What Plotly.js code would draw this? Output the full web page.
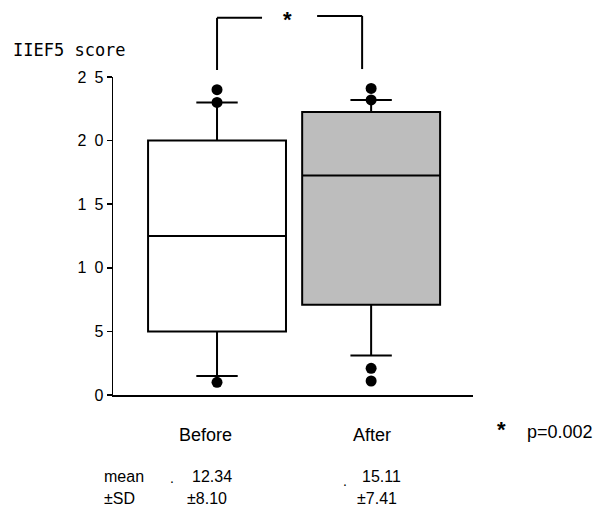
<!DOCTYPE html>
<html>
<head>
<meta charset="utf-8">
<script src="https://cdn.plot.ly/plotly-3.0.1.min.js"></script>
<style>
  html, body { margin: 0; padding: 0; background: #fff; }
  #chart { width: 600px; height: 507px; }
</style>
</head>
<body>
<div id="chart"></div>
<script>
// IIEF5 scores before and after treatment
const groups = ['Before', 'After'];
const lowerWhisker = [1.5, 3.1];
const q1 = [5, 7.1];
const median = [12.5, 17.25];
const q3 = [20, 22.25];
const upperWhisker = [23, 23.2];
const boxFill = ['#ffffff', '#bdbdbd'];

// individual points beyond the whiskers
const outlierGroup = ['Before', 'Before', 'Before', 'After', 'After', 'After', 'After'];
const outlierValue = [1, 23, 24, 1.1, 2.1, 23.2, 24.1];

const means = ['12.34', '15.11'];
const sds = ['8.10', '7.41'];
const pValue = '0.002';

const yTickVals = [0, 5, 10, 15, 20, 25];
const yTickText = ['0', '5', '1\u20020', '1\u20025', '2\u20020', '2\u20025'];

const boxes = groups.map((g, i) => ({
  type: 'box',
  x: [g],
  q1: [q1[i]],
  median: [median[i]],
  q3: [q3[i]],
  lowerfence: [lowerWhisker[i]],
  upperfence: [upperWhisker[i]],
  boxpoints: false,
  width: 0.895,
  whiskerwidth: 0.3,
  fillcolor: boxFill[i],
  line: { color: '#000', width: 2 },
  hoverinfo: 'skip',
  showlegend: false
}));

const points = {
  type: 'scatter',
  mode: 'markers',
  x: outlierGroup,
  y: outlierValue,
  marker: { color: '#000', size: 11, line: { width: 0 } },
  hoverinfo: 'skip',
  showlegend: false,
  cliponaxis: false
};

const font = { family: 'Liberation Sans, Arial, sans-serif', color: '#000' };
const txt = (text, x, y, size, anchor, family) => ({
  text, x, y, xref: 'paper', yref: 'paper', showarrow: false,
  xanchor: anchor || 'center', yanchor: 'middle',
  font: Object.assign({}, font, { size }, family ? { family } : {})
});

const annotations = [
  txt('IIEF5 score', -0.283, 1.085, 17, 'left', 'DejaVu Sans Mono, monospace'),
  txt(groups[0], 0.256, -0.126, 18),
  txt(groups[1], 0.719, -0.126, 18),
  txt('<b>*</b>', 1.078, -0.108, 22),
  txt('p=' + pValue, 1.144, -0.116, 18, 'left'),
  txt('mean', -0.031, -0.255, 16, 'left'),
  txt('±SD', -0.031, -0.324, 16, 'left'),
  txt('.', 0.164, -0.262, 14),
  txt(means[0], 0.214, -0.255, 16, 'left'),
  txt('±' + sds[0], 0.2, -0.324, 16, 'left'),
  txt('.', 0.644, -0.27, 14),
  txt(means[1], 0.686, -0.255, 16, 'left'),
  txt('±' + sds[1], 0.672, -0.324, 16, 'left'),
  txt('<b>*</b>', 0.486, 1.18, 22)
];

// significance bracket above the boxes
const line = { color: '#000', width: 2 };
const seg = (x0, y0, x1, y1) => ({ type: 'line', xref: 'paper', yref: 'paper', x0, y0, x1, y1, line });
const shapes = [
  seg(0.289, 1.022, 0.289, 1.186),
  seg(0.289, 1.186, 0.414, 1.186),
  seg(0.567, 1.192, 0.692, 1.192),
  seg(0.692, 1.192, 0.692, 1.025)
];

const layout = {
  width: 600,
  height: 507,
  margin: { l: 113, r: 127, t: 77, b: 112 },
  paper_bgcolor: '#fff',
  plot_bgcolor: '#fff',
  font: font,
  xaxis: {
    type: 'category',
    categoryorder: 'array',
    categoryarray: groups,
    range: [-0.675, 1.661],
    showticklabels: false,
    ticks: '',
    showgrid: false,
    zeroline: false,
    showline: true,
    linecolor: '#000',
    linewidth: 1.5
  },
  yaxis: {
    range: [0, 25],
    tickvals: yTickVals,
    ticktext: yTickText,
    ticks: 'outside',
    ticklen: 5,
    tickwidth: 1.5,
    tickcolor: '#000',
    tickfont: Object.assign({}, font, { size: 16 }),
    showgrid: false,
    zeroline: false,
    showline: true,
    linecolor: '#000',
    linewidth: 1.5
  },
  annotations,
  shapes
};

Plotly.newPlot('chart', boxes.concat([points]), layout, { staticPlot: true, displayModeBar: false });
</script>
</body>
</html>
